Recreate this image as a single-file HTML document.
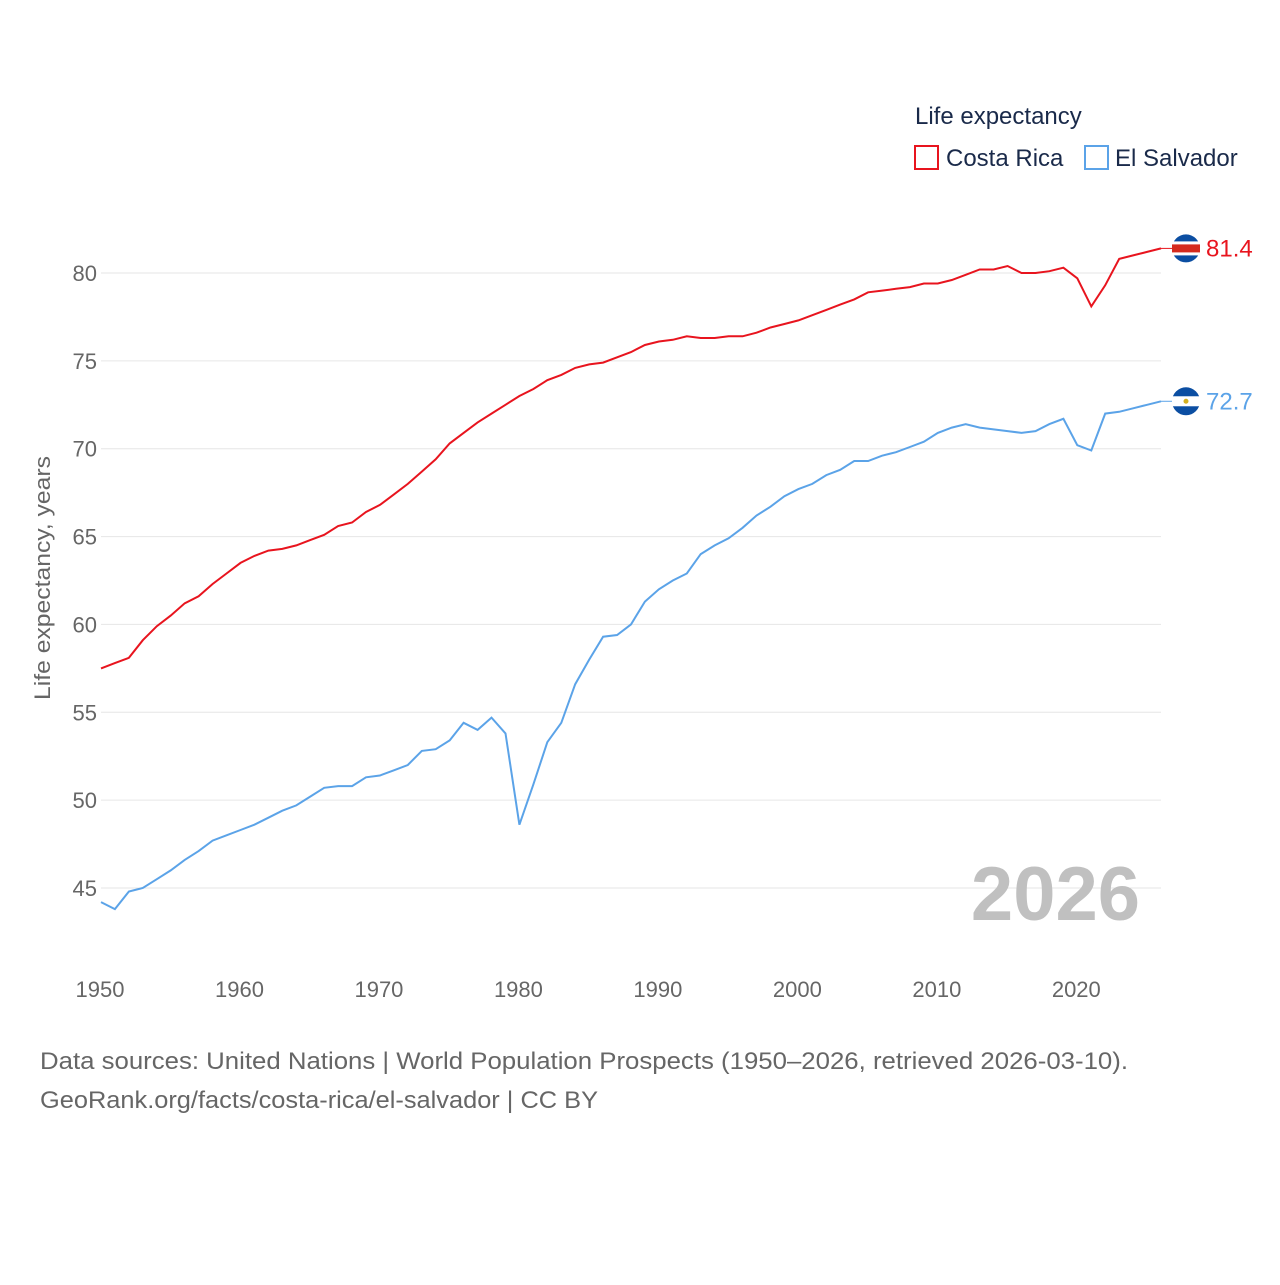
<!DOCTYPE html>
<html><head><meta charset="utf-8"><style>
body{margin:0;background:#fff;font-family:"Liberation Sans",sans-serif;}
svg text{font-family:"Liberation Sans",sans-serif;}
</style></head><body>
<svg id="chart" width="1280" height="1280" xmlns="http://www.w3.org/2000/svg">
<rect width="1280" height="1280" fill="#fff"/>
<g id="grid"></g>
<g id="yticks"></g>
<g id="xticks"></g>
<text transform="translate(50,578) rotate(-90)" text-anchor="middle" font-size="22" fill="#666" textLength="244" lengthAdjust="spacingAndGlyphs">Life expectancy, years</text>
<text x="1140" y="920" text-anchor="end" font-size="76" font-weight="bold" fill="#c0c0c0">2026</text>
<g id="series"></g>
<g>
<text x="915" y="124" font-size="24" fill="#1a2a4a">Life expectancy</text>
<rect x="915" y="146" width="23" height="23" fill="none" stroke="#e8141e" stroke-width="2"/>
<text x="946" y="166" font-size="24" fill="#1a2a4a">Costa Rica</text>
<rect x="1085" y="146" width="23" height="23" fill="none" stroke="#5ba3e8" stroke-width="2"/>
<text x="1115" y="166" font-size="24" fill="#1a2a4a">El Salvador</text>
</g>
<text x="40" y="1069" font-size="24" fill="#666" textLength="1088" lengthAdjust="spacingAndGlyphs">Data sources: United Nations | World Population Prospects (1950–2026, retrieved 2026-03-10).</text>
<text x="40" y="1108" font-size="24" fill="#666" textLength="558" lengthAdjust="spacingAndGlyphs">GeoRank.org/facts/costa-rica/el-salvador | CC BY</text>
</svg>
<script>
const years = Array.from({length:77},(_,i)=>1950+i);
const costaRica = [57.5,57.8,58.1,59.1,59.9,60.5,61.2,61.6,62.3,62.9,63.5,63.9,64.2,64.3,64.5,64.8,65.1,65.6,65.8,66.4,66.8,67.4,68.0,68.7,69.4,70.3,70.9,71.5,72.0,72.5,73.0,73.4,73.9,74.2,74.6,74.8,74.9,75.2,75.5,75.9,76.1,76.2,76.4,76.3,76.3,76.4,76.4,76.6,76.9,77.1,77.3,77.6,77.9,78.2,78.5,78.9,79.0,79.1,79.2,79.4,79.4,79.6,79.9,80.2,80.2,80.4,80.0,80.0,80.1,80.3,79.7,78.1,79.3,80.8,81.0,81.2,81.4];
const elSalvador = [44.2,43.8,44.8,45.0,45.5,46.0,46.6,47.1,47.7,48.0,48.3,48.6,49.0,49.4,49.7,50.2,50.7,50.8,50.8,51.3,51.4,51.7,52.0,52.8,52.9,53.4,54.4,54.0,54.7,53.8,48.6,50.9,53.3,54.4,56.6,58.0,59.3,59.4,60.0,61.3,62.0,62.5,62.9,64.0,64.5,64.9,65.5,66.2,66.7,67.3,67.7,68.0,68.5,68.8,69.3,69.3,69.6,69.8,70.1,70.4,70.9,71.2,71.4,71.2,71.1,71.0,70.9,71.0,71.4,71.7,70.2,69.9,72.0,72.1,72.3,72.5,72.7];
const yTicks = [45,50,55,60,65,70,75,80];
const xTicks = [1950,1960,1970,1980,1990,2000,2010,2020];
const NS="http://www.w3.org/2000/svg";
const x = v => 101 + (v-1950)*(1161-101)/76;
const y = v => 273 + (80-v)*(888-273)/35;
function mk(tag, attrs, parent){const e=document.createElementNS(NS,tag);for(const k in attrs)e.setAttribute(k,attrs[k]);parent.appendChild(e);return e;}
const grid=document.getElementById('grid'), yt=document.getElementById('yticks'), xt=document.getElementById('xticks'), ser=document.getElementById('series');
yTicks.forEach(t=>{
  const l=mk('line',{x1:101,x2:1161,y1:y(t),y2:y(t),stroke:'#e6e6e6','stroke-width':1},grid);
  
  
  const tx=mk('text',{x:97,y:y(t)+8,'text-anchor':'end','font-size':22,fill:'#666'},yt);
  tx.textContent=t;
  
  
});
xTicks.forEach(t=>{
  const tx=mk('text',{x:x(t)-1,y:997,'text-anchor':'middle','font-size':22,fill:'#666'},xt);
  tx.textContent=t;
  
  
});
function line(data,color,name){
  const d=data.map((v,i)=>(i?'L':'M')+x(years[i]).toFixed(1)+','+y(v).toFixed(1)).join('');
  const p=mk('path',{d:d,fill:'none',stroke:color,'stroke-width':2},ser);
  
  
  const last=data[data.length-1], lx=x(years[years.length-1]), ly=y(last);
  mk('line',{x1:lx,x2:lx+12,y1:ly,y2:ly,stroke:color,'stroke-width':1},ser);
  const c=mk('circle',{cx:lx+25,cy:ly,r:14,fill:'#0b4ea2'},ser);
  
  
  if(name==='costa-rica'){
    mk('rect',{x:lx+11,y:ly-7,width:28,height:14,fill:'#fff'},ser);
    mk('rect',{x:lx+11,y:ly-4,width:28,height:8,fill:'#d52b1e'},ser);
  } else {
    mk('rect',{x:lx+11,y:ly-5,width:28,height:10,fill:'#fff'},ser);
    mk('circle',{cx:lx+25,cy:ly,r:2.5,fill:'#d4b020'},ser);
  }
  const t=mk('text',{x:lx+45,y:ly+8,'font-size':24,fill:color},ser);
  t.textContent=last.toFixed(1);
  
  
}
line(costaRica,'#e8141e','costa-rica');
line(elSalvador,'#5ba3e8','el-salvador');
</script>
</body></html>
